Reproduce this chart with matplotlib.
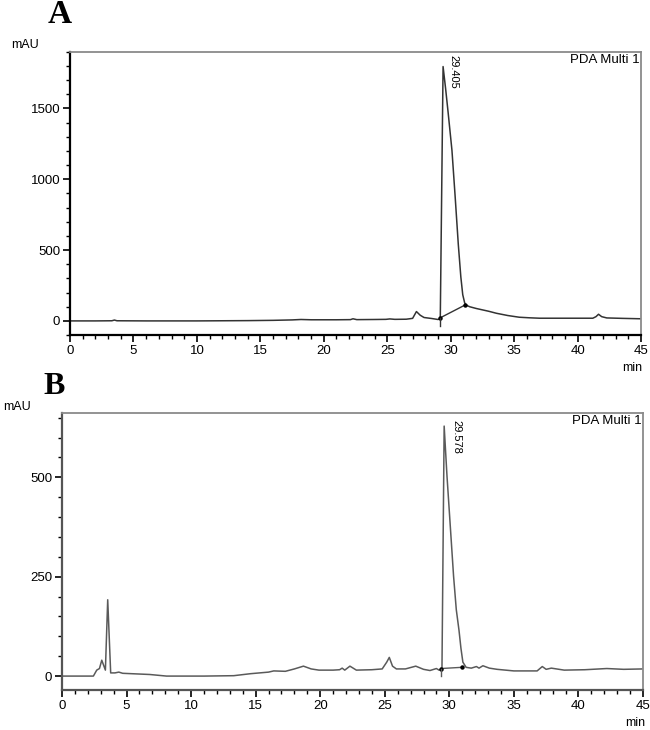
import matplotlib
matplotlib.use("Agg")
import matplotlib.pyplot as plt
from matplotlib.ticker import MultipleLocator
import matplotlib.transforms as mtransforms

plt.rcParams['font.family'] = ['Liberation Sans', 'DejaVu Sans']

# ---- panel A data (min, mAU) ----
a_time = [0, 2, 3.3, 3.5, 3.7, 6, 10, 14, 16, 17.5, 18.2, 19, 21, 22.1, 22.3, 22.6,
          24, 24.9, 25.2, 25.6, 26.5, 27.0, 27.3, 27.6, 27.9, 28.5, 29.0, 29.18,
          29.4, 29.6, 29.8, 30.1, 30.35, 30.6, 30.8, 30.95, 31.1, 31.2, 31.5, 32.0,
          32.3, 33.0, 33.6, 34.5, 35.4, 36.2, 37.0, 39.0, 41.2, 41.45, 41.65, 41.9,
          42.3, 43.5, 45]
a_mau = [0, 0, 1, 6, 1, 0, 0, 2, 4, 7, 10, 8, 8, 9, 15, 9,
         10, 11, 14, 11, 12, 18, 66, 40, 24, 17, 10, 16,
         1796, 1640, 1470, 1204, 880, 540, 310, 185, 128, 112, 100, 88,
         82, 68, 54, 38, 26, 22, 19, 19, 19, 30, 47, 30,
         21, 18, 15]
a_peak = 29.405
a_base_t = [29.18, 31.15]
a_base_v = [22, 113]

# ---- panel B data ----
b_time = [0, 2.43, 2.69, 2.9, 3.08, 3.36, 3.54, 3.77, 4.1, 4.4, 4.7, 6.8, 8.1, 11,
          13.3, 14.6, 16.0, 16.4, 17.3, 18.0, 18.7, 19.3, 19.9, 21.0, 21.5, 21.7,
          21.9, 22.3, 22.8, 24.0, 24.8, 25.15, 25.35, 25.6, 25.9, 26.6, 27.4, 28.0,
          28.5, 29.0, 29.2, 29.43, 29.6, 29.82, 30.16, 30.33, 30.54, 30.75, 30.9,
          31.05, 31.3, 31.7, 32.1, 32.3, 32.6, 33.1, 33.7, 35.0, 36.8, 37.2, 37.5,
          37.9, 38.9, 40.5, 42.2, 43.5, 45]
b_mau = [0, 0, 15, 19, 40, 15, 192, 8, 8, 10, 7, 4, 0, 0,
         1, 6, 10, 13, 12, 18, 25, 18, 15, 15, 16, 20,
         15, 25, 15, 16, 18, 35, 47, 25, 18, 18, 25, 17,
         14, 19, 15, 18, 629, 503, 335, 251, 167, 115, 70,
         35, 22, 20, 24, 20, 26, 20, 17, 13, 13, 24, 17,
         20, 15, 16, 19, 17, 18]
b_peak = 29.578
b_base_t = [29.36, 30.95]
b_base_v = [19, 22]

fig = plt.figure(figsize=(6.5, 7.3), dpi=100)


def style_axes(ax, ymajor, yminor, edge):
    ax.set_xlim(0, 45)
    ax.xaxis.set_major_locator(MultipleLocator(5))
    ax.xaxis.set_minor_locator(MultipleLocator(1))
    ax.yaxis.set_major_locator(MultipleLocator(ymajor))
    ax.yaxis.set_minor_locator(MultipleLocator(yminor))
    ax.tick_params(which='major', direction='out', length=5, width=1.2,
                   labelsize=9.5, colors='black', pad=2)
    ax.tick_params(which='minor', direction='out', length=3, width=1)
    for s in ('left', 'bottom'):
        ax.spines[s].set_color(edge)
        ax.spines[s].set_linewidth(1.6)
    for s in ('top', 'right'):
        ax.spines[s].set_color('#8a8a8a')
        ax.spines[s].set_linewidth(1.3)
    ax.text(0.998, 0.992, 'PDA Multi 1', transform=ax.transAxes,
            ha='right', va='top', fontsize=9.5)


def draw_panel(ax, t, v, peak, bt, bv, color, xoff, ytop):
    ax.plot(t, v, color=color, lw=1.1)
    # integration baseline with end markers and start tick
    ax.plot(bt, bv, color=color, lw=1.0)
    ax.plot(bt, bv, 'o', color='black', ms=2.2)
    ax.plot([bt[0], bt[0]], [bv[0] - (ax.get_ylim()[1] * 0.03), bv[0]], color=color, lw=1.0)
    trans = mtransforms.blended_transform_factory(ax.transData, ax.transAxes)
    ax.text(peak + xoff, ytop, f'{peak:.3f}', rotation=270, transform=trans,
            ha='left', va='top', fontsize=8)


# ---- A ----
axA = fig.add_axes([0.1077, 0.541, 0.8785, 0.388])
axA.set_ylim(-100, 1900)
style_axes(axA, 500, 100, 'black')
draw_panel(axA, a_time, a_mau, a_peak, a_base_t, a_base_v, '#333333', 0.4, 0.99)

# ---- B ----
axB = fig.add_axes([0.0954, 0.0548, 0.8938, 0.3795])
axB.set_ylim(-35, 662)
style_axes(axB, 250, 50, '#555555')
draw_panel(axB, b_time, b_mau, b_peak, b_base_t, b_base_v, '#5a5a5a', 0.55, 0.975)

# panel letters, unit labels
fig.text(0.0923, 0.9795, 'A', family=['Liberation Serif'], weight='bold',
         fontsize=24, ha='center', va='center')
fig.text(0.083, 0.470, 'B', family=['Liberation Serif'], weight='bold',
         fontsize=23, ha='center', va='center')
fig.text(0.0385, 0.938, 'mAU', fontsize=9, ha='center', va='center')
fig.text(0.026, 0.4425, 'mAU', fontsize=9, ha='center', va='center')
fig.text(0.988, 0.496, 'min', fontsize=9, ha='right', va='center')
fig.text(0.992, 0.0096, 'min', fontsize=9, ha='right', va='center')

fig.savefig('out.png', dpi=100)
